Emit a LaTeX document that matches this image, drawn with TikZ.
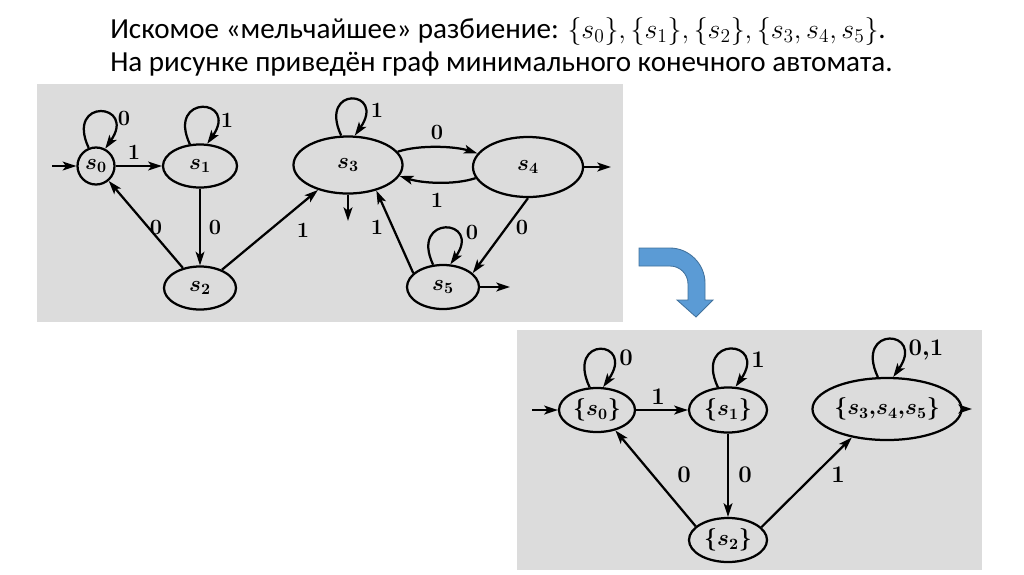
\RequirePackage{fix-cm}
\documentclass[tikz,border=0pt]{standalone}
\usepackage{fontspec}
\setmainfont{Carlito}
\usepackage{xcolor}
\definecolor{panelgray}{HTML}{DCDCDC}
\definecolor{bendblue}{HTML}{5B9BD5}
\definecolor{bendedge}{HTML}{41719C}
\usetikzlibrary{arrows.meta,shapes.geometric}
\tikzset{
  panel/.style ={fill=panelgray, draw=none},
  sbase/.style ={draw=black, line width=1.6pt, inner sep=0pt, align=center},
  sell/.style  ={sbase, ellipse, font=\fontsize{16}{18}\selectfont\boldmath},
  scirc/.style ={sbase, circle, minimum size=9.25mm, font=\fontsize{16}{18}\selectfont\boldmath},
  bell/.style  ={sbase, ellipse, font=\fontsize{16}{18}\selectfont\boldmath},
  arr/.style   ={-{Stealth[length=3.4mm, width=2.2mm, inset=0.8mm]}, line width=1.6pt},
  el/.style    ={font=\fontsize{15.5}{17}\selectfont\boldmath, inner sep=1pt},
  bel/.style   ={el, font=\fontsize{17}{19}\selectfont\boldmath},
  ttl/.style   ={anchor=base west, inner sep=0pt, font=\fontsize{20.7}{25}\selectfont},
}

\begin{document}
\begin{tikzpicture}[x=0.025cm, y=-0.025cm]
  \useasboundingbox (0,0) rectangle (1024,574);
  \fill[panel] (37,84) rectangle (623,322);
  \fill[panel] (517,330) rectangle (982,570);

  \node[ttl] (title1) at (110,38) {Искомое «мельчайшее» разбиение: {\fontsize{19.8}{25}\selectfont$\{s_0\}, \{s_1\}, \{s_2\}, \{s_3, s_4, s_5\}$}.};
  \node[ttl] (title2) at (110,71) {На рисунке приведён граф минимального конечного автомата.};

  % bent arrow between the two graphs
  \draw[fill=bendblue, draw=bendedge, line width=0.6pt]
    (639,248) -- (670,248) .. controls (689,248) and (705,264) .. (705,283)
    -- (705,300) -- (713,300) -- (696,317) -- (677,300) -- (688,300) -- (688,284)
    .. controls (688,274) and (680,266) .. (670,266) -- (639,266) -- cycle;

  % source automaton
  \node[scirc] (s0) at (96,166) {$s_0$};
  \node[sell, minimum width=18.5mm, minimum height=10.75mm] (s1) at (200,166) {$s_1$};
  \node[sell, minimum width=18mm, minimum height=10.75mm] (s2) at (200,288) {$s_2$};
  \node[sell, minimum width=27.25mm, minimum height=14.25mm] (s3) at (348,165) {$s_3$};
  \node[sell, minimum width=27.5mm, minimum height=15mm] (s4) at (528,167) {$s_4$};
  \node[sell, minimum width=18mm, minimum height=11mm] (s5) at (443,287) {$s_5$};
  \coordinate (i0) at (52,166);
  \coordinate (f3) at (348,221);
  \coordinate (f4) at (611,167);
  \coordinate (f5) at (510,287);

  \draw[arr] (i0) -- (s0);
  \draw[arr] (s0) -- (s1);
  \draw[arr] (s1) -- (s2);
  \draw[arr] (s2) -- (s0);
  \draw[arr] (s2) -- (s3);
  \draw[arr] (s3.15) .. controls +(0.55cm,0.18cm) and +(-0.55cm,0.18cm) .. (s4.165);
  \draw[arr] (s4.192) .. controls +(-0.55cm,-0.18cm) and +(0.55cm,-0.18cm) .. (s3.-12);
  \draw[arr] (s5.155) -- (s3.-42);
  \draw[arr] (s4.south) -- (s5.25);
  \draw[arr] (s3.south) -- (f3);
  \draw[arr] (s4.east) -- (f4);
  \draw[arr] (s5.east) -- (f5);
  \draw[arr] (s0.112) .. controls +(115:1.4cm) and +(55:1.4cm) .. (s0.62);
  \draw[arr] (s1.115) .. controls +(115:1.4cm) and +(55:1.4cm) .. (s1.72);
  \draw[arr] (s3.103) .. controls +(115:1.4cm) and +(55:1.4cm) .. (s3.77);
  \draw[arr] (s5.114) .. controls +(115:1.4cm) and +(55:1.4cm) .. (s5.72);

  \node[el] (l00) at (124,118) {$0$};
  \node[el] (l01) at (134,152) {$1$};
  \node[el] (l11) at (227,120) {$1$};
  \node[el] (l12) at (215,227) {$0$};
  \node[el] (l20) at (156,227) {$0$};
  \node[el] (l23) at (303,230) {$1$};
  \node[el] (l33) at (377,110) {$1$};
  \node[el] (l34) at (437,132) {$0$};
  \node[el] (l43) at (437,200) {$1$};
  \node[el] (l53) at (377,227) {$1$};
  \node[el] (l55) at (472,232) {$0$};
  \node[el] (l45) at (522,227) {$0$};

  % minimal automaton
  \node[bell, minimum width=19mm, minimum height=11mm] (b0) at (597,410) {$\{s_0\}$};
  \node[bell, minimum width=19.5mm, minimum height=11.25mm] (b1) at (728,410) {$\{s_1\}$};
  \node[bell, minimum width=19.5mm, minimum height=11mm] (b2) at (728,540) {$\{s_2\}$};
  \node[bell, minimum width=28.75mm, minimum height=15.5mm] (b3) at (887,409) {$\{s_3{,}s_4{,}s_5\}$};
  \coordinate (bi) at (532,410);
  \coordinate (bf) at (972,409);

  \draw[arr] (bi) -- (b0);
  \draw[arr] (b0) -- (b1);
  \draw[arr] (b1) -- (b2);
  \draw[arr] (b2.157) -- (b0.-48);
  \draw[arr] (b2.21) -- (b3.-141);
  \draw[arr] (b3.east) -- (bf);
  \draw[arr] (b0.108) .. controls +(115:1.45cm) and +(55:1.45cm) .. (b0.75);
  \draw[arr] (b1.114) .. controls +(115:1.45cm) and +(55:1.45cm) .. (b1.72);
  \draw[arr] (b3.106) .. controls +(115:1.45cm) and +(55:1.45cm) .. (b3.79);

  \node[bel] (m00) at (626,358) {$0$};
  \node[bel] (m01) at (658,397) {$1$};
  \node[bel] (m11) at (758,360) {$1$};
  \node[bel] (m12) at (745,475) {$0$};
  \node[bel] (m20) at (684,475) {$0$};
  \node[bel] (m23) at (838,475) {$1$};
  \node[bel] (m33) at (926,350) {$0{,}1$};
\end{tikzpicture}
\end{document}
